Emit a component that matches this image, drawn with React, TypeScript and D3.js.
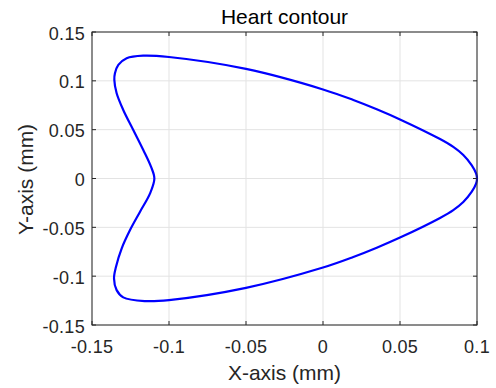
import React from "react";
import * as d3 from "d3";

const contourX = [
  0.1, 0.0994, 0.0965, 0.0911, 0.0846, 0.076, 0.05, 0.0349, 0.0197, 0.0, -0.05, -0.1, -0.1167,
  -0.1275, -0.1329, -0.1351, -0.1355, -0.134, -0.1297, -0.1232, -0.1167, -0.1117, -0.1095, -0.1123,
  -0.1188, -0.1253, -0.1307, -0.1344, -0.1357, -0.134, -0.1297, -0.1156, -0.1, -0.05, 0.0, 0.0197,
  0.0349, 0.05, 0.076, 0.0846, 0.0911, 0.0965, 0.0994,
];
const contourY = [
  0, 0.0053, 0.0138, 0.0241, 0.0324, 0.0404, 0.0605, 0.0709, 0.0804, 0.0912, 0.1122, 0.1244, 0.1258,
  0.1232, 0.1163, 0.1078, 0.101, 0.0873, 0.0702, 0.0497, 0.0292, 0.0121, 0, -0.0152,
  -0.034, -0.0528, -0.0715, -0.0904, -0.1023, -0.1143, -0.1217, -0.1255, -0.1245, -0.112, -0.0912, -0.0804,
  -0.0709, -0.0605, -0.0404, -0.0324, -0.0241, -0.0138, -0.0053,
];
const xTicks = [-0.15, -0.1, -0.05, 0, 0.05, 0.1];
const yTicks = [-0.15, -0.1, -0.05, 0, 0.05, 0.1, 0.15];
const xDomain = [-0.15, 0.1];
const yDomain = [-0.15, 0.15];

const W = 496, H = 388;
const M = { left: 92, right: 477, top: 32, bottom: 325 };
const FONT = "'Liberation Sans', Arial, Helvetica, sans-serif";
const AX = "#262626";

export default function App() {
  const x = d3.scaleLinear().domain(xDomain).range([M.left, M.right]);
  const y = d3.scaleLinear().domain(yDomain).range([M.bottom, M.top]);
  const pts: [number, number][] = contourX.map((v, i) => [v, contourY[i]]);
  const line = d3.line<[number, number]>().x(d => x(d[0])).y(d => y(d[1])).curve(d3.curveCatmullRomClosed.alpha(0.5));
  const fmt = (v: number) => String(Math.round(v * 1000) / 1000);
  const tl = 4;
  return (
    <svg width={W} height={H} style={{ position: "absolute", left: 0, top: 0, background: "#fff" }} fontFamily={FONT}>
      <rect x={0} y={0} width={W} height={H} fill="#fff" />
      {xTicks.map(t => (
        <line key={"gx" + t} x1={x(t)} x2={x(t)} y1={M.top} y2={M.bottom} stroke="#e3e3e3" strokeWidth={1} />
      ))}
      {yTicks.map(t => (
        <line key={"gy" + t} x1={M.left} x2={M.right} y1={y(t)} y2={y(t)} stroke="#e3e3e3" strokeWidth={1} />
      ))}
      <path d={line(pts) || ""} fill="none" stroke="#0000ff" strokeWidth={2.2} />
      <rect x={M.left} y={M.top} width={M.right - M.left} height={M.bottom - M.top} fill="none" stroke={AX} strokeWidth={1} />
      {xTicks.map(t => (
        <g key={"tx" + t}>
          <line x1={x(t)} x2={x(t)} y1={M.bottom} y2={M.bottom - tl} stroke={AX} />
          <line x1={x(t)} x2={x(t)} y1={M.top} y2={M.top + tl} stroke={AX} />
          <text x={x(t)} y={M.bottom + 28} textAnchor="middle" fontSize={18} letterSpacing={0.3} fill={AX}>{fmt(t)}</text>
        </g>
      ))}
      {yTicks.map(t => (
        <g key={"ty" + t}>
          <line x1={M.left} x2={M.left + tl} y1={y(t)} y2={y(t)} stroke={AX} />
          <line x1={M.right} x2={M.right - tl} y1={y(t)} y2={y(t)} stroke={AX} />
          <text x={M.left - 7} y={y(t) + 7.5} textAnchor="end" fontSize={18} letterSpacing={0.3} fill={AX}>{fmt(t)}</text>
        </g>
      ))}
      <text x={(M.left + M.right) / 2} y={23.5} textAnchor="middle" fontSize={21} fill="#000">Heart contour</text>
      <text x={(M.left + M.right) / 2} y={380} textAnchor="middle" fontSize={21} fill={AX}>X-axis (mm)</text>
      <text transform={`translate(33,${(M.top + M.bottom) / 2 + 1}) rotate(-90)`} textAnchor="middle" fontSize={21} fill={AX}>Y-axis (mm)</text>
    </svg>
  );
}
